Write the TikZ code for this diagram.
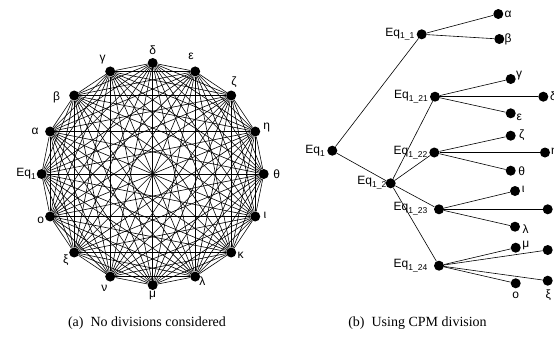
\documentclass[tikz,border=0pt]{standalone}
\usepackage{fontspec}
\setmainfont{Liberation Serif}
\newfontfamily\lblfont{Liberation Sans}
\newcommand\eqsub[1]{\raisebox{-0.22em}{\fontsize{8.5}{8.5}\selectfont #1}}
\begin{document}
\begin{tikzpicture}[x=1pt,y=-1pt,
  dot/.style={circle,fill=black,inner sep=0pt,minimum size=10pt},
  lab/.style={font=\lblfont\fontsize{12}{12}\selectfont,inner sep=0pt},
  eqlab/.style={lab,anchor=east},
  edge/.style={line width=0.6pt},
  captext/.style={font=\fontsize{14}{14}\selectfont,inner sep=0pt}]
\useasboundingbox (0,0) rectangle (554,338);
% ---------- (a) complete graph ----------
\foreach \k in {1,...,16}
  \node[dot] (c\k) at ({152.7+111*cos(90-22.5*(\k-1))},{174-111*sin(90-22.5*(\k-1))}) {};
\foreach \i in {1,...,15}{
  \pgfmathtruncatemacro\jstart{\i+1}
  \foreach \j in {\jstart,...,16}
    \draw[edge] (c\i) -- (c\j);
}
\node[lab] (la1) at (152.7,50.7) {δ};
\node[lab] (la2) at (191,56.7) {ε};
\node[lab] (la3) at (234,81.7) {ζ};
\node[lab] (la4) at (266.7,128) {η};
\node[lab] (la5) at (276.7,174) {θ};
\node[lab] (la6) at (265,215) {ι};
\node[lab] (la7) at (240.7,255) {κ};
\node[lab] (la8) at (202.3,280.7) {λ};
\node[lab] (la9) at (152.7,295) {μ};
\node[lab] (la10) at (104.3,288.3) {ν};
\node[lab] (la11) at (65.7,260) {ξ};
\node[lab] (la12) at (40.7,220.7) {ο};
\node[lab,anchor=east] (la13) at (36,174) {Eq\eqsub{1}};
\node[lab] (la14) at (35,131.7) {α};
\node[lab] (la15) at (56.7,97.7) {β};
\node[lab] (la16) at (102.7,59.3) {γ};
% ---------- (b) tree ----------
\node[dot] (E) at (332.3,150.7) {};
\node[dot] (E1) at (421.7,34.3) {};
\node[dot] (E2) at (390.7,183.3) {};
\node[dot] (E21) at (435,96.7) {};
\node[dot] (E22) at (434.3,152.5) {};
\node[dot] (E23) at (439,209.3) {};
\node[dot] (E24) at (439,265.7) {};
\node[dot] (ta) at (498.3,14) {};
\node[dot] (tb) at (499.3,39) {};
\node[dot] (tg) at (510.7,79) {};
\node[dot] (td) at (543.3,96.7) {};
\node[dot] (te) at (510.7,113.3) {};
\node[dot] (tz) at (510.7,135.7) {};
\node[dot] (th) at (545,152.5) {};
\node[dot] (tt) at (510.7,170.7) {};
\node[dot] (ti) at (515,191) {};
\node[dot] (tk) at (547.7,209.3) {};
\node[dot] (tl) at (515,226.7) {};
\node[dot] (tm) at (515.7,247.7) {};
\node[dot] (tn) at (547.7,250) {};
\node[dot] (to) at (515.7,283.3) {};
\node[dot] (tx) at (547.7,280.7) {};
\foreach \a/\b in {E/E1,E/E2,E1/ta,E1/tb,E2/E21,E2/E22,E2/E23,E2/E24,
  E21/tg,E21/td,E21/te,E22/tz,E22/th,E22/tt,E23/ti,E23/tk,E23/tl,
  E24/tm,E24/tn,E24/to,E24/tx}
  \draw[edge] (\a) -- (\b);
\node[eqlab] (lE) at (325,150.7) {Eq\eqsub{1}};
\node[eqlab] (lE1) at (414.5,34.3) {Eq\eqsub{1\_1}};
\node[eqlab] (lE2) at (386.5,182.5) {Eq\eqsub{1\_2}};
\node[eqlab] (lE21) at (428,96.7) {Eq\eqsub{1\_21}};
\node[eqlab] (lE22) at (427.5,152.5) {Eq\eqsub{1\_22}};
\node[eqlab] (lE23) at (427.5,208.5) {Eq\eqsub{1\_23}};
\node[eqlab] (lE24) at (427.5,265.7) {Eq\eqsub{1\_24}};
\node[lab] (lta) at (508,14) {α};
\node[lab] (ltb) at (508,39) {β};
\node[lab] (ltg) at (519,76) {γ};
\node[lab,anchor=west] (ltd) at (550,96.7) {δ};
\node[lab] (lte) at (519.3,117) {ε};
\node[lab] (ltz) at (521.7,135) {ζ};
\node[lab,anchor=west] (lth) at (551,152.5) {η};
\node[lab] (ltt) at (521.7,171.7) {θ};
\node[lab] (lti) at (523.3,189.3) {ι};
\node[lab] (ltl) at (525.7,229) {λ};
\node[lab] (ltm) at (525.7,245) {μ};
\node[lab] (lto) at (515.7,295) {ο};
\node[lab] (ltx) at (548.3,295) {ξ};
% ---------- captions ----------
\node[captext] (capa) at (147,323) {(a)\hspace{0.5em}No divisions considered};
\node[captext] (capb) at (417.5,323) {(b)\hspace{0.5em}Using CPM division};
\end{tikzpicture}
\end{document}
